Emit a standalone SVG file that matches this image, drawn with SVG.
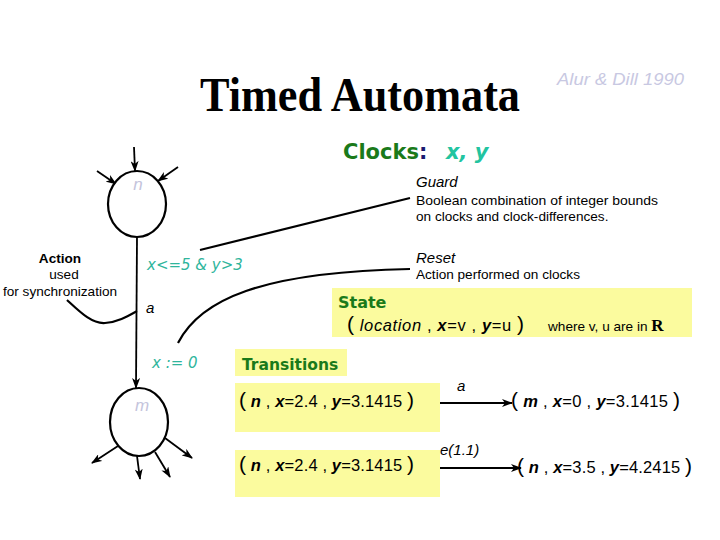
<svg xmlns="http://www.w3.org/2000/svg" width="720" height="540" viewBox="0 0 720 540">
<defs>
<marker id="ah" markerWidth="11" markerHeight="8" refX="10" refY="4" orient="auto" markerUnits="userSpaceOnUse">
<path d="M0,0 L11,4 L0,8 L3,4 Z" fill="#000"/>
</marker>
<style>
.ln{stroke:#000;stroke-width:2.2;fill:none}
.arr{stroke:#000;stroke-width:1.8;fill:none;marker-end:url(#ah)}
.node{fill:#fff;stroke:#000;stroke-width:2.2}
.nl{font-family:"Liberation Sans",Arial,sans-serif;font-style:italic;font-size:17px;fill:#c4c4dc}
.teal{font-family:"DejaVu Sans",sans-serif;font-style:italic;font-size:15px;fill:#2fb59c}
.lbl{font-family:"Liberation Sans",Arial,sans-serif;font-size:13.6px;fill:#000}
.hd{font-family:"Liberation Sans",Arial,sans-serif;font-style:italic;font-size:15px;fill:#000}
.grn{font-family:"DejaVu Sans",Verdana,sans-serif;font-weight:bold;fill:#1a7a1a}
.box{fill:#fbfb9e}
.tup{font-family:"Liberation Sans",Arial,sans-serif;font-size:16.5px;fill:#000}
.par{font-size:21px}
.v{font-style:italic;font-weight:bold}
.it{font-style:italic}
</style>
</defs>

<g id="title">
<text x="200" y="111" font-family="Liberation Serif,'Times New Roman',serif" font-weight="bold" font-size="48" textLength="320" lengthAdjust="spacingAndGlyphs">Timed Automata</text>
<text x="557" y="85" font-family="Liberation Sans,Arial,sans-serif" font-style="italic" font-size="16" fill="#c8c8e2" textLength="127" lengthAdjust="spacingAndGlyphs">Alur &amp; Dill 1990</text>
</g>

<g id="clocks">
<text x="343" y="159" class="grn" font-size="21">Clocks<tspan fill="#1a1a70">:</tspan></text>
<text x="446" y="159" font-family="DejaVu Sans,sans-serif" font-weight="bold" font-style="italic" font-size="21" fill="#22c4a0">x, y</text>
</g>

<g id="connectors">
<line class="arr" x1="134" y1="147" x2="135" y2="171"/>
<line class="arr" x1="97" y1="171" x2="116" y2="184"/>
<line class="arr" x1="178" y1="167" x2="158" y2="181"/>
<line class="arr" x1="137" y1="237" x2="136" y2="388"/>
<line class="arr" x1="118" y1="446" x2="92" y2="463"/>
<line class="arr" x1="137" y1="456" x2="140" y2="479"/>
<line class="arr" x1="155" y1="452" x2="170" y2="477"/>
<line class="arr" x1="165" y1="438" x2="192" y2="458"/>
<path class="ln" d="M67,300 C80,312 92,324 105,323 C118,322 128,316 137,311"/>
<line class="ln" x1="200" y1="250" x2="410" y2="198"/>
<path class="ln" d="M178,343 C200,300 260,272 410,269"/>
<line class="arr" x1="427" y1="403" x2="512" y2="403"/>
<line class="arr" x1="427" y1="468" x2="521" y2="468"/>
</g>

<g id="node-n">
<ellipse class="node" cx="137" cy="204" rx="29" ry="33"/>
<text class="nl" x="138" y="190" text-anchor="middle">n</text>
</g>

<g id="node-m">
<ellipse class="node" cx="139" cy="422" rx="29" ry="34"/>
<text class="nl" x="142" y="411" text-anchor="middle">m</text>
</g>

<g id="action-label">
<text class="lbl" x="60" y="263" text-anchor="middle" font-weight="bold">Action</text>
<text class="lbl" x="64" y="279" text-anchor="middle">used</text>
<text class="lbl" x="60" y="296" text-anchor="middle">for synchronization</text>
</g>

<g id="edge-labels">
<text class="teal" x="147" y="270">x&lt;=5 &amp; y&gt;3</text>
<text class="hd" x="146" y="313" font-size="18">a</text>
<text class="teal" x="152" y="368">x := 0</text>
</g>

<g id="guard">
<text class="hd" x="416" y="187">Guard</text>
<text class="lbl" x="416" y="205" textLength="242" lengthAdjust="spacingAndGlyphs">Boolean combination of integer bounds</text>
<text class="lbl" x="416" y="221">on clocks and clock-differences.</text>
</g>

<g id="reset">
<text class="hd" x="416" y="263">Reset</text>
<text class="lbl" x="416" y="279">Action performed on clocks</text>
</g>

<g id="state">
<rect class="box" x="332" y="288" width="360" height="49"/>
<text class="grn" x="338" y="308" font-size="16">State</text>
<text class="tup" x="347" y="331" textLength="177" lengthAdjust="spacing"><tspan class="par" font-size="19">(</tspan> <tspan class="it">location</tspan> , <tspan class="v">x</tspan>=v , <tspan class="v">y</tspan>=u <tspan class="par" font-size="19">)</tspan></text>
<text class="lbl" x="548" y="331" font-size="14.5">where v, u are in <tspan font-family="Liberation Serif,serif" font-weight="bold" font-size="17">R</tspan></text>
</g>

<g id="transitions">
<rect class="box" x="235" y="349" width="112" height="27"/>
<text class="grn" x="242" y="370" font-size="15.5">Transitions</text>
<rect class="box" x="235" y="383" width="205" height="49"/>
<text class="tup" x="239" y="407" textLength="175" lengthAdjust="spacing"><tspan class="par">(</tspan> <tspan class="v">n</tspan> , <tspan class="v">x</tspan>=2.4 , <tspan class="v">y</tspan>=3.1415 <tspan class="par">)</tspan></text>
<text class="hd" x="457" y="391" font-size="18">a</text>
<text class="tup" x="511" y="407" textLength="169" lengthAdjust="spacing"><tspan class="par">(</tspan> <tspan class="v">m</tspan> , <tspan class="v">x</tspan>=0 , <tspan class="v">y</tspan>=3.1415 <tspan class="par">)</tspan></text>
<rect class="box" x="235" y="450" width="205" height="47"/>
<text class="tup" x="239" y="471" textLength="175" lengthAdjust="spacing"><tspan class="par">(</tspan> <tspan class="v">n</tspan> , <tspan class="v">x</tspan>=2.4 , <tspan class="v">y</tspan>=3.1415 <tspan class="par">)</tspan></text>
<text class="hd" x="440" y="455" font-size="16.5">e(1.1)</text>
<text class="tup" x="517" y="473" textLength="175" lengthAdjust="spacing"><tspan class="par">(</tspan> <tspan class="v">n</tspan> , <tspan class="v">x</tspan>=3.5 , <tspan class="v">y</tspan>=4.2415 <tspan class="par">)</tspan></text>
</g>
</svg>
